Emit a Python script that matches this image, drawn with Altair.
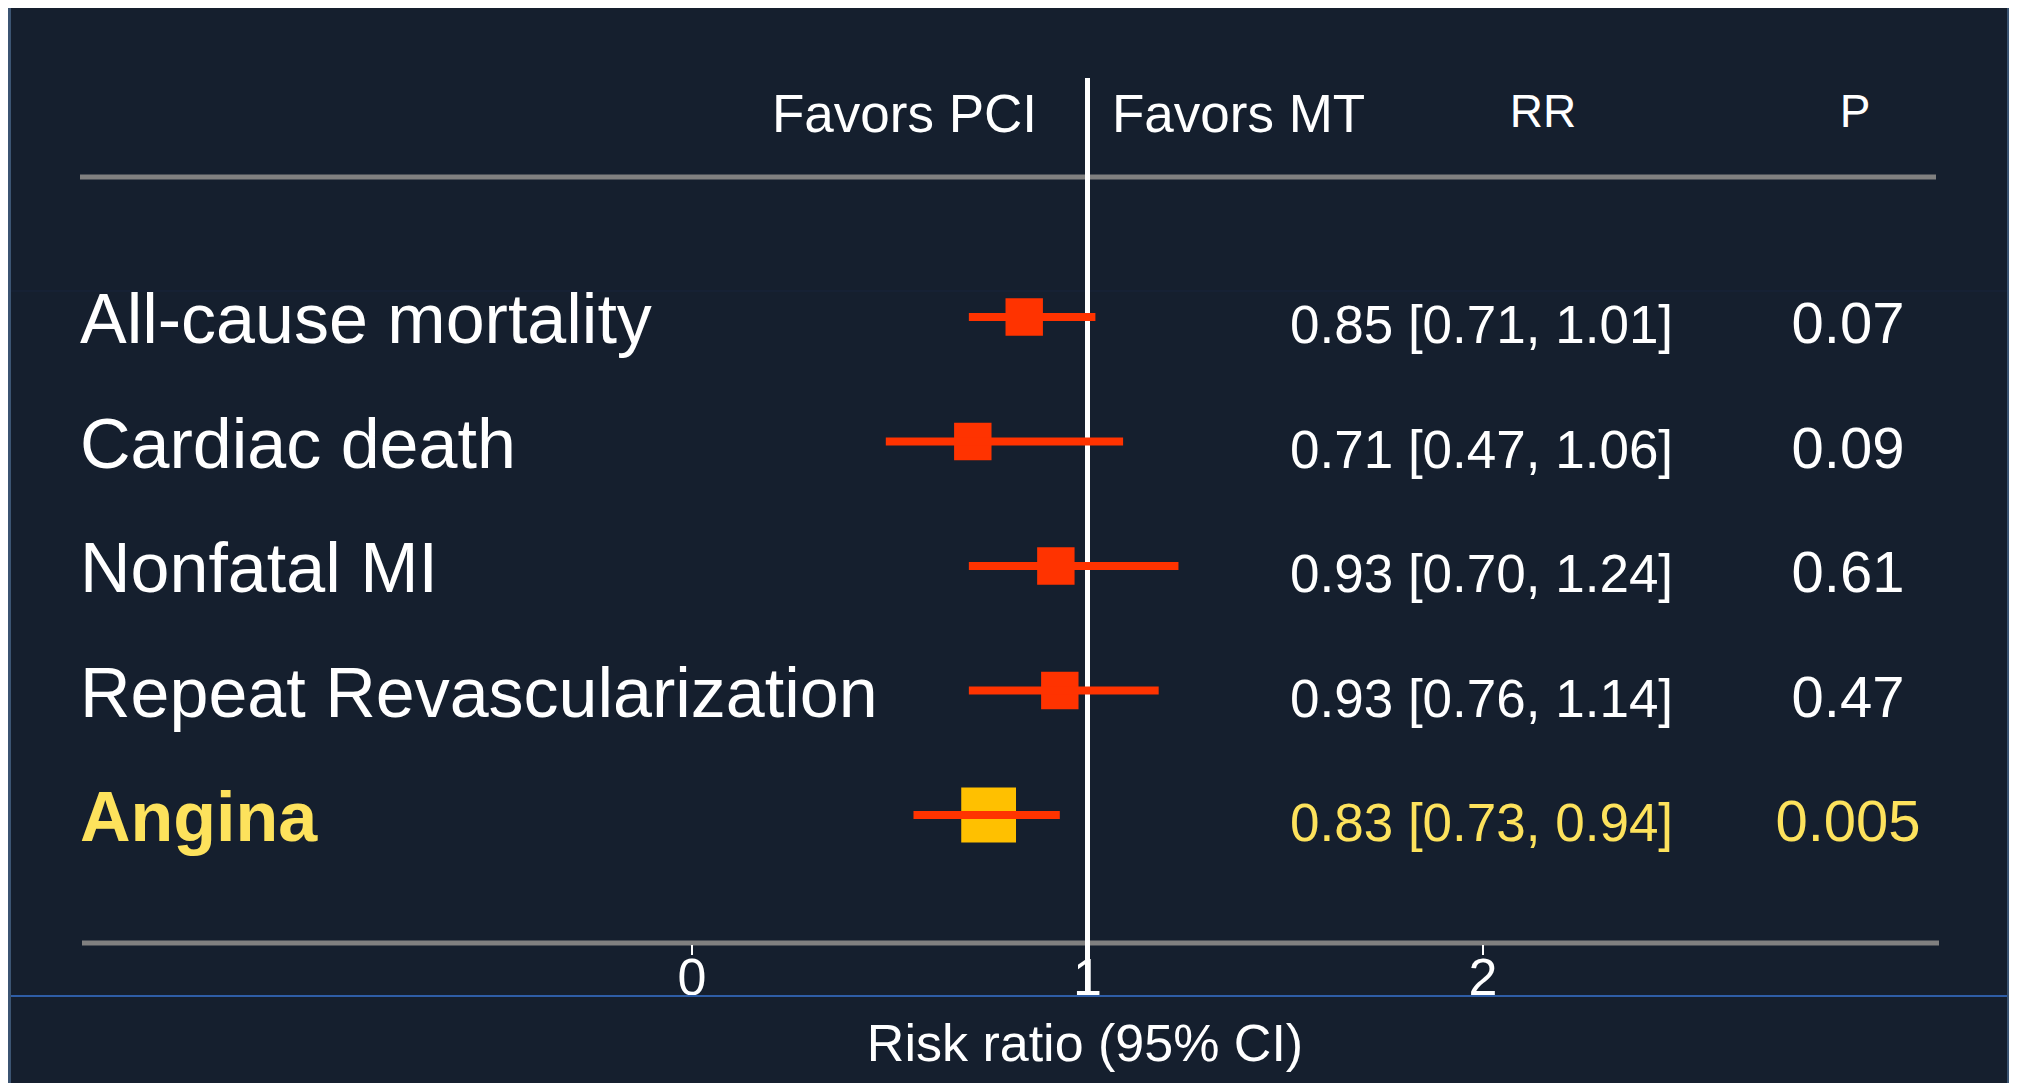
import altair as alt
import pandas as pd

# ---- data ----
outcomes = ["All-cause mortality", "Cardiac death", "Nonfatal MI",
            "Repeat Revascularization", "Angina"]
row_index = [0, 1, 2, 3, 4]
point_est = [0.84, 0.71, 0.92, 0.93, 0.75]
ci_low = [0.70, 0.49, 0.70, 0.70, 0.56]
ci_high = [1.02, 1.09, 1.23, 1.18, 0.93]
rr_text = ["0.85 [0.71, 1.01]", "0.71 [0.47, 1.06]", "0.93 [0.70, 1.24]",
           "0.93 [0.76, 1.14]", "0.83 [0.73, 0.94]"]
p_text = ["0.07", "0.09", "0.61", "0.47", "0.005"]
tick_values = [0, 1, 2]
tick_labels = ["0", "1", "2"]
null_value = [1.0]

df = pd.DataFrame({"label": outcomes, "row": row_index, "pt": point_est,
                   "lo": ci_low, "hi": ci_high, "rr": rr_text, "p": p_text})
ticks = pd.DataFrame({"v": tick_values, "t": tick_labels})
nullv = pd.DataFrame({"v": null_value})

W, H = 2001, 1075
FONT = "Liberation Sans"
BG = "#151f2e"
RED = "#ff3300"
YEL_SQ = "#ffc000"
YEL_TXT = "#fde25c"

xs = alt.Scale(domain=[0, 2], range=[684, 1475], nice=False, zero=False)
ys = alt.Scale(domain=[0, 4], range=[309, 807], nice=False, zero=False)
X = lambda f: alt.X(f, type="quantitative", scale=xs, axis=None)
Y = lambda f: alt.Y(f, type="quantitative", scale=ys, axis=None)

base = alt.Chart(df)
hl = alt.datum.label == "Angina"

def hrule(x1, x2, y, color, sw):
    return alt.Chart(nullv).mark_rule(color=color, strokeWidth=sw, strokeCap="butt").encode(
        x=alt.value(x1), x2=alt.value(x2), y=alt.value(y))

layers = []
# panel borders
layers.append(alt.Chart(nullv).mark_rect(color="#3b5472").encode(
    x=alt.value(0), x2=alt.value(3), y=alt.value(0), y2=alt.value(H)))
layers.append(alt.Chart(nullv).mark_rect(color="#3b5472").encode(
    x=alt.value(1999), x2=alt.value(W), y=alt.value(0), y2=alt.value(H)))
# faint slide seam
layers.append(hrule(3, 1999, 283, "#19253a", 1))
# header and bottom lines
layers.append(hrule(72, 1928, 169, "#808080", 5))
layers.append(hrule(74, 1931, 935, "#808080", 5))
# tick marks and labels
layers.append(alt.Chart(ticks).mark_rule(color="white", strokeWidth=2).encode(
    x=X("v"), y=alt.value(937), y2=alt.value(947)))
layers.append(alt.Chart(ticks).mark_text(font=FONT, fontSize=52, color="white",
                                         align="center", baseline="alphabetic").encode(
    x=X("v"), y=alt.value(987), text="t:N"))
# line of no effect
layers.append(alt.Chart(nullv).mark_rule(color="white", strokeWidth=5).encode(
    x=X("v"), y=alt.value(70), y2=alt.value(988)))
# squares
layers.append(base.transform_filter(~hl).mark_square(size=1400, color=RED, opacity=1).encode(
    x=X("pt"), y=Y("row")))
layers.append(base.transform_filter(hl).mark_square(size=3000, color=YEL_SQ, opacity=1).encode(
    x=X("pt"), y=Y("row")))
# CI lines
layers.append(base.mark_rule(color=RED, strokeWidth=8, strokeCap="butt").encode(
    x=X("lo"), x2="hi:Q", y=Y("row")))
# row labels
layers.append(base.transform_filter(~hl).mark_text(font=FONT, fontSize=70, color="white",
                                                   align="left", baseline="alphabetic", dy=26).encode(
    x=alt.value(72), y=Y("row"), text="label:N"))
layers.append(base.transform_filter(hl).mark_text(font=FONT, fontSize=70, fontWeight="bold",
                                                  color=YEL_TXT, align="left",
                                                  baseline="alphabetic", dy=26).encode(
    x=alt.value(72), y=Y("row"), text="label:N"))
# RR and P columns
col_color = alt.condition(hl, alt.value(YEL_TXT), alt.value("white"))
layers.append(base.mark_text(font=FONT, fontSize=53, align="left", baseline="alphabetic", dy=26).encode(
    x=alt.value(1282), y=Y("row"), text="rr:N", color=col_color))
layers.append(base.mark_text(font=FONT, fontSize=58, align="center", baseline="alphabetic", dy=26).encode(
    x=alt.value(1840), y=Y("row"), text="p:N", color=col_color))
# headers
def label(txt, x, y, size, align):
    return alt.Chart(nullv).mark_text(text=txt, font=FONT, fontSize=size, color="white",
                                      align=align, baseline="alphabetic").encode(
        x=alt.value(x), y=alt.value(y))
layers.append(label("Favors PCI", 1029, 124, 53, "right"))
layers.append(label("Favors MT", 1104, 124, 53, "left"))
layers.append(label("RR", 1535, 119, 46, "center"))
layers.append(label("P", 1847, 119, 46, "center"))
# blue separator and axis title
layers.append(hrule(3, 1999, 988, "#2e5da6", 2))
layers.append(label("Risk ratio (95% CI)", 1077, 1053, 52, "center"))

chart = alt.layer(*layers).properties(
    width=W, height=H, padding=0, background=BG,
    autosize=alt.AutoSizeParams(type="none"),
).configure_view(stroke=None)

chart.save("out.html", embed_options={"renderer": "svg", "actions": False})
